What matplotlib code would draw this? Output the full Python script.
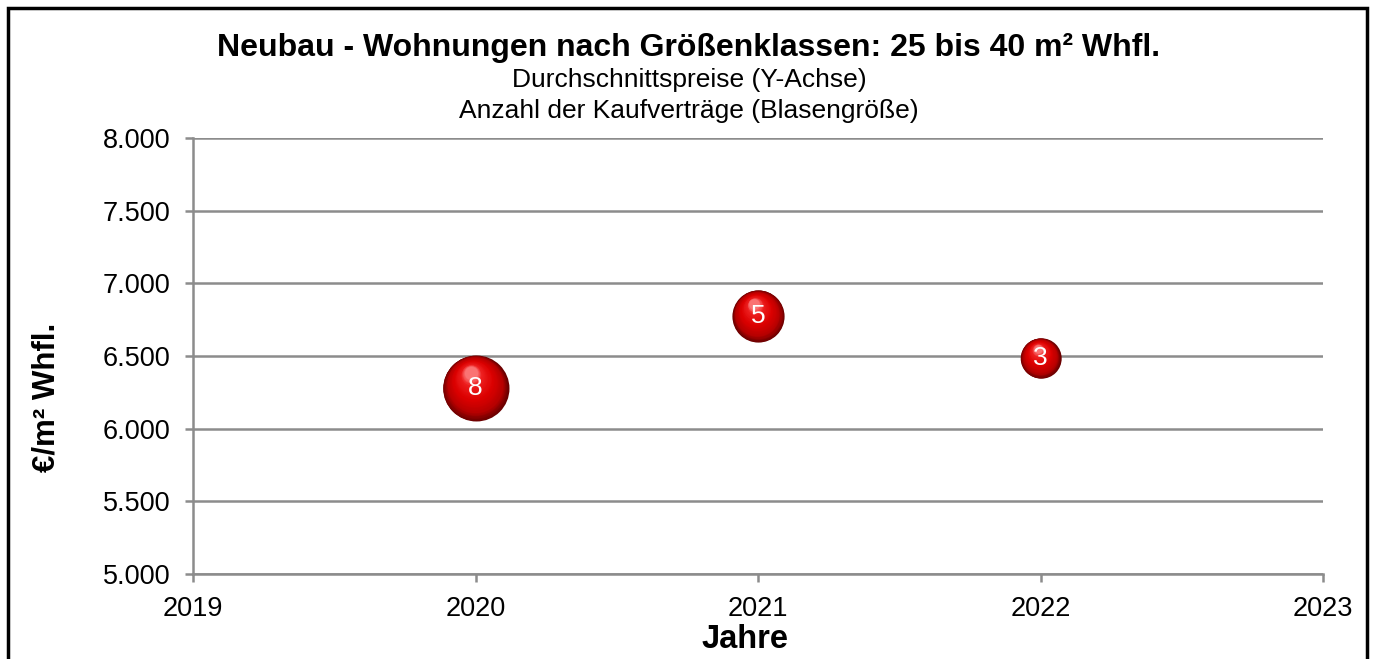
import numpy as np
import matplotlib.pyplot as plt
import matplotlib.transforms as mtransforms
from matplotlib.patches import Rectangle
from matplotlib.ticker import FuncFormatter

plt.rcParams['font.family'] = ['Liberation Sans', 'DejaVu Sans']

# data
years = [2020, 2021, 2022]
prices = [6280, 6775, 6485]
counts = [8, 5, 3]

fig = plt.figure(figsize=(13.75, 6.59), dpi=100)
ax = fig.add_axes([0.1404, 0.129, 0.8218, 0.6616])

grid_col = '#8c8c8c'
ax.set_xlim(2019, 2023)
ax.set_ylim(5000, 8000)
ax.set_xticks([2019, 2020, 2021, 2022, 2023])
ax.set_yticks(np.arange(5000, 8001, 500))
ax.yaxis.set_major_formatter(FuncFormatter(lambda v, p: f'{int(v):,}'.replace(',', '.')))
ax.grid(axis='y', color=grid_col, lw=1.8)
ax.set_axisbelow(True)
for s in ['top', 'right']:
    ax.spines[s].set_visible(False)
for s in ['left', 'bottom']:
    ax.spines[s].set_color(grid_col)
    ax.spines[s].set_linewidth(1.8)
ax.tick_params(axis='both', colors=grid_col, width=1.8, length=6, labelsize=19.5, labelcolor='black')
ax.tick_params(axis='y', pad=10)
ax.tick_params(axis='x', pad=10)

# shaded bubbles (nested circles shifted towards the highlight)
s_per = 282.0
n = 40
def shade(t):
    stops = [(0.0, (0.42, 0.0, 0.0)), (0.2, (0.72, 0.0, 0.0)), (0.5, (0.86, 0.0, 0.0)),
             (0.85, (0.93, 0.12, 0.12)), (1.0, (0.98, 0.45, 0.45))]
    for (t0, c0), (t1, c1) in zip(stops[:-1], stops[1:]):
        if t <= t1:
            a = (t - t0) / (t1 - t0)
            return tuple(c0[k] + a * (c1[k] - c0[k]) for k in range(3))
    return stops[-1][1]

for x, y, c in zip(years, prices, counts):
    r = np.sqrt(c * s_per) / 2
    for i in range(n):
        t = i / (n - 1)
        f = 1 - 0.8 * t
        shift = (r - r * f) * 0.6
        dx, dy = -0.3 * shift, 0.95 * shift
        tr = ax.transData + mtransforms.ScaledTranslation(dx / 72, dy / 72, fig.dpi_scale_trans)
        ax.scatter([x], [y], s=(2 * r * f) ** 2, color=shade(t), lw=0, transform=tr, zorder=3 + i * 0.001)
    ax.text(x, y, str(c), color='white', fontsize=19, ha='center', va='center', zorder=5)

fig.text(0.501, 1 - 48 / 659, 'Neubau - Wohnungen nach Größenklassen: 25 bis 40 m² Whfl.',
         ha='center', va='center', fontsize=23, fontweight='bold')
fig.text(0.501, 1 - 80 / 659, 'Durchschnittspreise (Y-Achse)', ha='center', va='center', fontsize=19)
fig.text(0.501, 1 - 111 / 659, 'Anzahl der Kaufverträge (Blasengröße)', ha='center', va='center', fontsize=19)
fig.text(745 / 1375, 1 - 639 / 659, 'Jahre', ha='center', va='center', fontsize=23.5, fontweight='bold')
fig.text(47 / 1375, 1 - 397 / 659, '€/m² Whfl.', ha='center', va='center', rotation=90,
         fontsize=22.5, fontweight='bold')

fig.patches.append(Rectangle((8 / 1375, -0.05), 1359 / 1375, 1.05 - 8 / 659, transform=fig.transFigure,
                             fill=False, ec='black', lw=2.5, clip_on=False))

fig.savefig('out.png', dpi=100)
